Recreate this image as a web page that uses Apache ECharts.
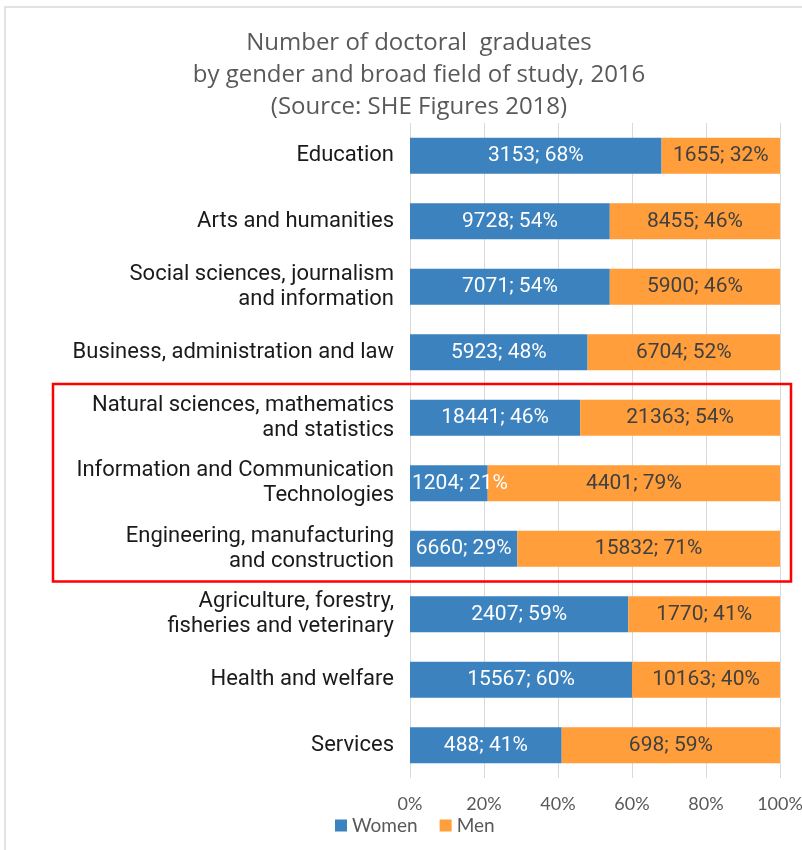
<!DOCTYPE html>
<html>
<head>
<meta charset="utf-8">
<script src="https://cdn.jsdelivr.net/npm/echarts@6/dist/echarts.min.js"></script>
<style>
html,body{margin:0;padding:0;background:#fff;overflow:hidden;}
#chart{width:802px;height:850px;}
</style>
</head>
<body>
<div id="chart"></div>
<script>
const categories = [
  'Education',
  'Arts and humanities',
  'Social sciences, journalism\nand information',
  'Business, administration and law',
  'Natural sciences, mathematics\nand statistics',
  'Information and Communication\nTechnologies',
  'Engineering, manufacturing\nand construction',
  'Agriculture, forestry,\nfisheries and veterinary',
  'Health and welfare',
  'Services'
];
const womenCount = [3153, 9728, 7071, 5923, 18441, 1204, 6660, 2407, 15567, 488];
const womenPct   = [68, 54, 54, 48, 46, 21, 29, 59, 60, 41];
const menCount   = [1655, 8455, 5900, 6704, 21363, 4401, 15832, 1770, 10163, 698];
const menPct     = [32, 46, 46, 52, 54, 79, 71, 41, 40, 59];
const xTicks = [0, 20, 40, 60, 80, 100];
const highlighted = ['Natural sciences, mathematics\nand statistics', 'Engineering, manufacturing\nand construction'];

const chart = echarts.init(document.getElementById('chart'));

const womenData = womenPct.map((v, i) => {
  const item = { value: v };
  if (i === 5) item.label = { position: 'insideLeft', distance: 2 };
  return item;
});

chart.setOption({
  animation: false,
  title: {
    text: 'Number of doctoral  graduates\nby gender and broad field of study, 2016\n(Source: SHE Figures 2018)',
    left: 414,
    textAlign: 'center',
    top: 22,
    textStyle: { fontFamily: 'Open Sans', fontWeight: 'normal', fontSize: 24, color: '#595959', lineHeight: 32 }
  },
  legend: {
    bottom: 10,
    left: 330,
    itemWidth: 12, itemHeight: 12, itemGap: 22,
    icon: 'rect',
    textStyle: { fontFamily: 'Lato', fontSize: 19, color: '#595959' },
    data: ['Women', 'Men']
  },
  grid: { left: 410, width: 370, top: 123, bottom: 72, containLabel: false, outerBoundsMode: 'none' },
  xAxis: {
    type: 'value', min: xTicks[0], max: xTicks[xTicks.length - 1], interval: 20,
    axisLine: { show: false }, axisTick: { show: false },
    splitLine: { lineStyle: { color: '#D9D9D9', width: 1 } },
    axisLabel: { formatter: '{value}%', fontFamily: 'Lato', fontSize: 18, color: '#595959', margin: 17 }
  },
  yAxis: {
    type: 'category', data: categories, inverse: true,
    axisLine: { show: false }, axisTick: { show: false },
    axisLabel: { fontFamily: 'Roboto', fontSize: 22, color: '#1a1a1a', margin: 16, lineHeight: 25, align: 'right' }
  },
  series: [
    {
      name: 'Women', type: 'bar', stack: 'total', data: womenData,
      barWidth: 36,
      itemStyle: { color: '#3C82BE' },
      label: {
        show: true, position: 'inside', color: '#ffffff', fontFamily: 'Roboto', fontSize: 21,
        formatter: p => womenCount[p.dataIndex] + '; ' + womenPct[p.dataIndex] + '%'
      }
    },
    {
      name: 'Men', type: 'bar', stack: 'total', data: menPct,
      barWidth: 36,
      itemStyle: { color: '#FF9E3B' },
      label: {
        show: true, position: 'inside', color: '#404040', fontFamily: 'Roboto', fontSize: 21,
        formatter: p => menCount[p.dataIndex] + '; ' + menPct[p.dataIndex] + '%'
      }
    }
  ]
});

// annotation: frame and red highlight box computed from the axes
const topC = chart.convertToPixel({ yAxisIndex: 0 }, highlighted[0]);
const botC = chart.convertToPixel({ yAxisIndex: 0 }, highlighted[1]);
const band = chart.convertToPixel({ yAxisIndex: 0 }, categories[1]) - chart.convertToPixel({ yAxisIndex: 0 }, categories[0]);
const y1 = topC - band / 2, y2 = botC + band / 2;
chart.setOption({
  graphic: [
    { type: 'rect', shape: { x: 5, y: 7, width: 820, height: 860 }, style: { fill: 'none', stroke: '#D9D9D9', lineWidth: 1.5 }, silent: true, z: -1 },
    { type: 'rect', shape: { x: 53, y: y1 - 1, width: 738, height: y2 - y1 + 1 }, style: { fill: 'none', stroke: '#FF0000', lineWidth: 2.5 }, silent: true, z: 100 }
  ]
});
</script>
</body>
</html>
